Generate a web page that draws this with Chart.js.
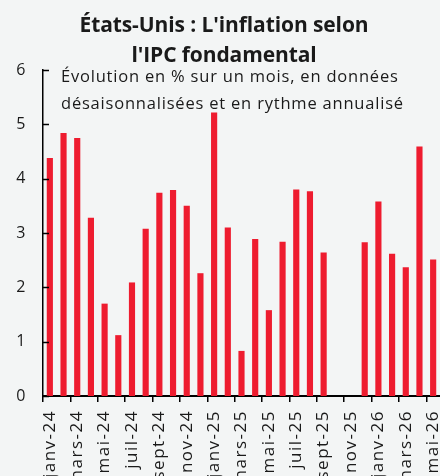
<!DOCTYPE html>
<html lang="fr">
<head>
<meta charset="utf-8">
<title>États-Unis : L'inflation selon l'IPC fondamental</title>
<script src="https://cdn.jsdelivr.net/npm/chart.js@4.4.1/dist/chart.umd.min.js"></script>
<style>
    html, body { margin: 0; padding: 0; background: #f3f5f5; overflow: hidden; }
    #wrap { position: relative; width: 440px; height: 476px; font-family: "Open Sans", sans-serif; color: #1a1a1a; }
    #titre { position: absolute; left: 0; width: 448px; top: 9px; text-align: center; font-weight: bold; font-size: 21px; line-height: 30px; letter-spacing: -0.1px; z-index: 1; }
    #sous-titre { position: absolute; left: 61px; top: 62px; font-size: 16.5px; line-height: 27px; letter-spacing: 0.8px; z-index: 2; }
    #graph { position: absolute; left: 0; top: 0; }
</style>
</head>
<body>
<div id="wrap">
    <div id="titre">États-Unis : L'inflation selon<br>l'IPC fondamental</div>
    <div id="sous-titre">Évolution en % sur un mois, en données<br>désaisonnalisées et en rythme annualisé</div>
    <canvas id="graph" width="440" height="476"></canvas>
</div>
<script>
const mois = [
    'janv-24', 'févr-24', 'mars-24', 'avr-24', 'mai-24', 'juin-24', 'juil-24', 'août-24', 'sept-24', 'oct-24', 'nov-24', 'déc-24',
    'janv-25', 'févr-25', 'mars-25', 'avr-25', 'mai-25', 'juin-25', 'juil-25', 'août-25', 'sept-25', 'oct-25', 'nov-25', 'déc-25',
    'janv-26', 'févr-26', 'mars-26', 'avr-26', 'mai-26'
];
// variation mensuelle annualisée (%), pas de données pour oct-25 et nov-25
const inflationCore = [
    4.38, 4.84, 4.75, 3.28, 1.70, 1.12, 2.09, 3.08, 3.74, 3.79, 3.50, 2.26,
    5.22, 3.10, 0.83, 2.89, 1.58, 2.84, 3.80, 3.77, 2.64, null, null, 2.83,
    3.58, 2.62, 2.37, 4.59, 2.51
];
const yTicks = [0, 1, 2, 3, 4, 5, 6];

// texte un peu plus espacé, comme dans l'original
const espacement = {
    id: 'espacement',
    beforeInit(chart) { chart.ctx.letterSpacing = '1.5px'; },
    beforeDraw(chart) { chart.ctx.letterSpacing = '1.5px'; }
};

// petites graduations vers l'intérieur sur l'axe vertical
const graduationsY = {
    id: 'graduationsY',
    afterDatasetsDraw(chart) {
        const y = chart.scales.y;
        const ctx = chart.ctx;
        ctx.save();
        ctx.strokeStyle = '#000';
        ctx.lineWidth = 1.5;
        yTicks.forEach(v => {
            const py = Math.round(y.getPixelForValue(v)) + 0.5;
            ctx.beginPath();
            ctx.moveTo(y.right, py);
            ctx.lineTo(y.right + 6, py);
            ctx.stroke();
        });
        ctx.restore();
    }
};

new Chart(document.getElementById('graph'), {
    type: 'bar',
    data: {
        labels: mois,
        datasets: [{
            data: inflationCore,
            backgroundColor: '#ee1c2f',
            barPercentage: 0.45,
            categoryPercentage: 1
        }]
    },
    options: {
        responsive: false,
        animation: false,
        layout: { padding: { top: 70, right: 0, left: 0, bottom: 0 } },
        plugins: { legend: { display: false }, tooltip: { enabled: false } },
        scales: {
            x: {
                offset: true,
                grid: {
                    offset: true,
                    drawOnChartArea: false,
                    tickLength: 6,
                    lineWidth: 1.5,
                    tickColor: c => (c.index % 2 === 0 ? '#000' : 'rgba(0,0,0,0)')
                },
                border: { display: true, color: '#000', width: 2 },
                ticks: {
                    autoSkip: false,
                    maxRotation: 90,
                    minRotation: 90,
                    padding: 8,
                    color: '#1a1a1a',
                    font: { family: 'Open Sans', size: 17 },
                    callback: function(val, i) { return i % 2 === 0 ? mois[i] : ''; }
                },
                afterFit: s => { s.height = 80; s.paddingLeft = 0; s.paddingRight = 0; }
            },
            y: {
                min: 0,
                max: 6,
                grid: { display: false, drawTicks: false },
                border: { display: true, color: '#000', width: 1.5 },
                ticks: {
                    stepSize: 1,
                    padding: 16,
                    color: '#1a1a1a',
                    font: { family: 'Open Sans', size: 16 }
                },
                afterFit: s => { s.width = 43; }
            }
        }
    },
    plugins: [espacement, graduationsY]
});
</script>
</body>
</html>
